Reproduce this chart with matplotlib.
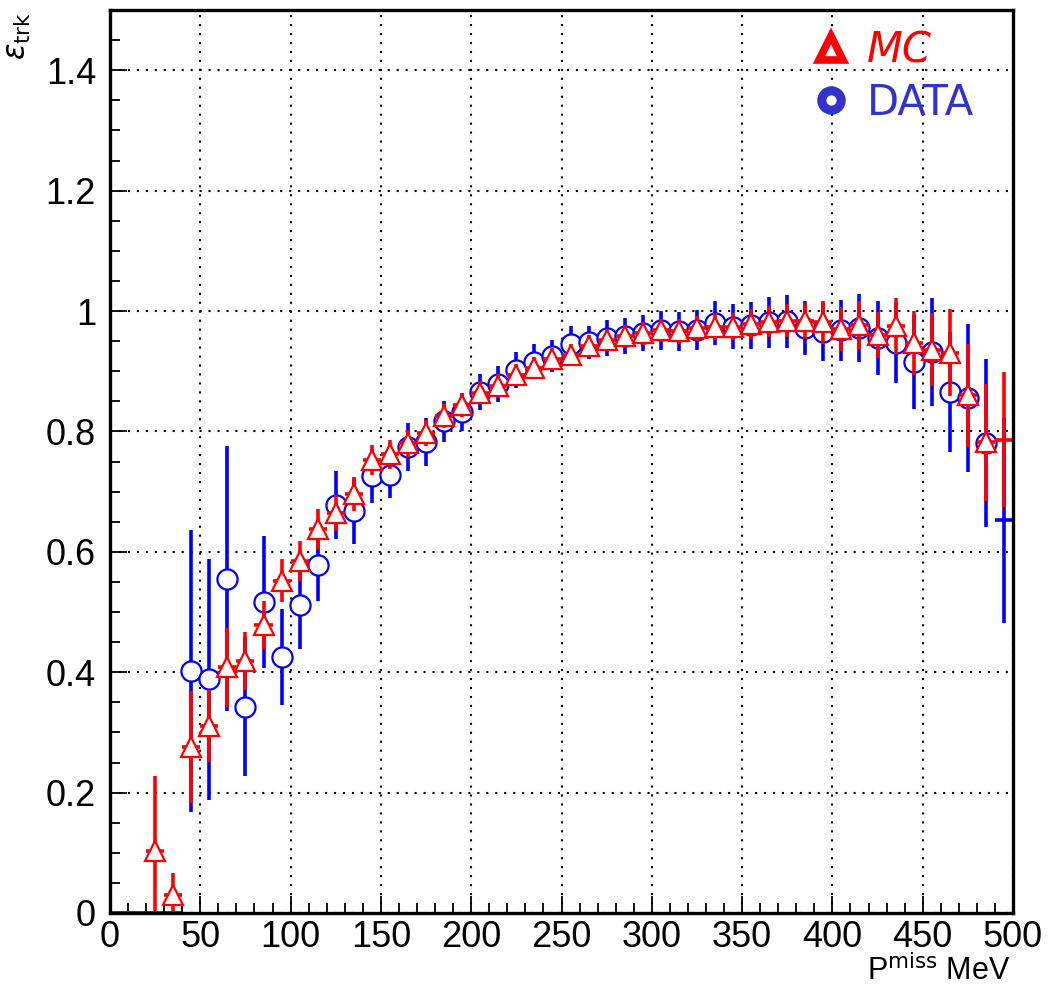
import numpy as np
import matplotlib
matplotlib.use("Agg")
import matplotlib.pyplot as plt
from matplotlib.lines import Line2D
from matplotlib.ticker import MultipleLocator, FixedLocator, FixedFormatter

# ---------------- data ----------------
p_miss = [5, 15, 25, 35, 45, 55, 65, 75, 85, 95, 105, 115, 125, 135, 145, 155, 165, 175,
          185, 195, 205, 215, 225, 235, 245, 255, 265, 275, 285, 295, 305, 315, 325, 335,
          345, 355, 365, 375, 385, 395, 405, 415, 425, 435, 445, 455, 465, 475, 485, 495]
bin_half_width = 5

mc_eff = [0.0, 0.0, 0.103, 0.030, 0.276, 0.311, 0.408, 0.418, 0.478, 0.552, 0.585, 0.638,
          0.665, 0.696, 0.752, 0.762, 0.780, 0.797, 0.826, 0.844, 0.864, 0.876, 0.894, 0.906,
          0.921, 0.927, 0.942, 0.952, 0.958, 0.963, 0.968, 0.966, 0.971, 0.974, 0.974, 0.978,
          0.982, 0.984, 0.983, 0.981, 0.970, 0.977, 0.960, 0.975, 0.947, 0.936, 0.931, 0.860,
          0.782, 0.786]
mc_err = [0.0, 0.0, 0.125, 0.037, 0.093, 0.060, 0.066, 0.048, 0.040, 0.036, 0.033, 0.033,
          0.030, 0.028, 0.025, 0.024, 0.022, 0.022, 0.020, 0.020, 0.019, 0.019, 0.018, 0.018,
          0.018, 0.018, 0.018, 0.018, 0.018, 0.019, 0.019, 0.020, 0.021, 0.022, 0.023, 0.025,
          0.026, 0.028, 0.030, 0.035, 0.037, 0.040, 0.038, 0.047, 0.053, 0.061, 0.073, 0.086,
          0.097, 0.112]

data_eff = [0.0, 0.0, 0.0, 0.0, 0.402, 0.388, 0.555, 0.343, 0.517, 0.425, 0.511, 0.578,
            0.678, 0.668, 0.726, 0.728, 0.774, 0.783, 0.817, 0.832, 0.865, 0.879, 0.902, 0.916,
            0.925, 0.945, 0.948, 0.955, 0.958, 0.964, 0.968, 0.966, 0.969, 0.980, 0.974, 0.976,
            0.981, 0.983, 0.972, 0.965, 0.968, 0.972, 0.955, 0.947, 0.915, 0.932, 0.865, 0.855,
            0.781, 0.653]
data_err = [0.0, 0.0, 0.0, 0.0, 0.235, 0.200, 0.220, 0.116, 0.110, 0.080, 0.073, 0.060,
            0.057, 0.055, 0.045, 0.038, 0.040, 0.040, 0.034, 0.032, 0.030, 0.030, 0.030, 0.029,
            0.027, 0.030, 0.027, 0.030, 0.030, 0.030, 0.032, 0.032, 0.033, 0.037, 0.037, 0.039,
            0.042, 0.044, 0.045, 0.048, 0.051, 0.056, 0.062, 0.067, 0.078, 0.090, 0.100, 0.123,
            0.140, 0.171]

x_ticks = [0, 50, 100, 150, 200, 250, 300, 350, 400, 450, 500]
x_tick_labels = ["0", "50", "100", "150", "200", "250", "300", "350", "400", "450", "500"]
y_ticks = [0, 0.2, 0.4, 0.6, 0.8, 1.0, 1.2, 1.4]
y_tick_labels = ["0", "0.2", "0.4", "0.6", "0.8", "1", "1.2", "1.4"]

legend_labels = ["MC", "DATA"]

# ---------------- style ----------------
RED = "#ff0000"
BLUE = "#0000ff"
LEG_BLUE = "#3333cc"
tick_font = ["Liberation Sans", "DejaVu Sans"]

fig = plt.figure(figsize=(10.5, 9.89), dpi=100)
ax = fig.add_axes([110 / 1050, 1 - 913 / 989, 903 / 1050, 903 / 989])

x = np.array(p_miss)
# marker shown only for filled bins that fit inside the frame
def marker_mask(vals):
    v = np.array(vals)
    m = v > 0
    m[-1] = False
    return list(m)

ax.errorbar(x, data_eff, yerr=data_err, xerr=bin_half_width, fmt="o", ms=14.5,
            mfc="white", mec=BLUE, mew=1.6, ecolor=BLUE, elinewidth=2.6, capsize=0,
            markevery=marker_mask(data_eff), zorder=3, clip_on=True)
ax.errorbar(x, mc_eff, yerr=mc_err, xerr=bin_half_width, fmt="^", ms=15,
            mfc="white", mec=RED, mew=1.6, ecolor=RED, elinewidth=2.6, capsize=0,
            markevery=marker_mask(mc_eff), zorder=4, clip_on=True)

ax.set_xlim(0, 500)
ax.set_ylim(0, 1.5)

ax.xaxis.set_major_locator(FixedLocator(x_ticks))
ax.xaxis.set_major_formatter(FixedFormatter(x_tick_labels))
ax.xaxis.set_minor_locator(MultipleLocator(10))
ax.yaxis.set_major_locator(FixedLocator(y_ticks))
ax.yaxis.set_major_formatter(FixedFormatter(y_tick_labels))
ax.yaxis.set_minor_locator(MultipleLocator(0.05))

ax.tick_params(which="both", direction="in", top=False, right=False, color="black")
ax.tick_params(which="major", length=12, width=1.3)
ax.tick_params(which="minor", length=7, width=1.3)
ax.tick_params(axis="x", which="major", pad=5)
ax.tick_params(axis="y", which="major", pad=10)
for lab in ax.get_xticklabels() + ax.get_yticklabels():
    lab.set_fontfamily(tick_font)
    lab.set_fontsize(26)

ax.grid(True, which="major", color="black", linestyle=(0, (1, 3.3)), linewidth=1.5)
ax.set_axisbelow(True)
for sp in ax.spines.values():
    sp.set_linewidth(2.4)
    sp.set_zorder(6)

ax.set_xlabel(r"P$^{\mathrm{miss}}$ MeV", loc="right", fontsize=22, family=tick_font)
ax.xaxis.set_label_coords(0.997, -0.047)
ax.set_ylabel(r"$\varepsilon_{\mathrm{trk}}$", loc="top", fontsize=22)
ax.yaxis.set_label_coords(-0.085, 0.998)

handles = [
    Line2D([], [], linestyle="none", marker="^", ms=17, mfc="white", mec=RED, mew=5.5),
    Line2D([], [], linestyle="none", marker="o", ms=14, mfc="white", mec=LEG_BLUE, mew=6.5),
]
leg = ax.legend(handles, legend_labels, loc="upper left", bbox_to_anchor=(0.757, 0.997),
                frameon=False, fontsize=30, handlelength=1.0, handletextpad=0.35,
                labelspacing=0.25, borderaxespad=0)
leg.get_texts()[0].set_color(RED)
leg.get_texts()[0].set_fontstyle("italic")
leg.get_texts()[1].set_color(LEG_BLUE)

fig.savefig("out.png", dpi=100)
